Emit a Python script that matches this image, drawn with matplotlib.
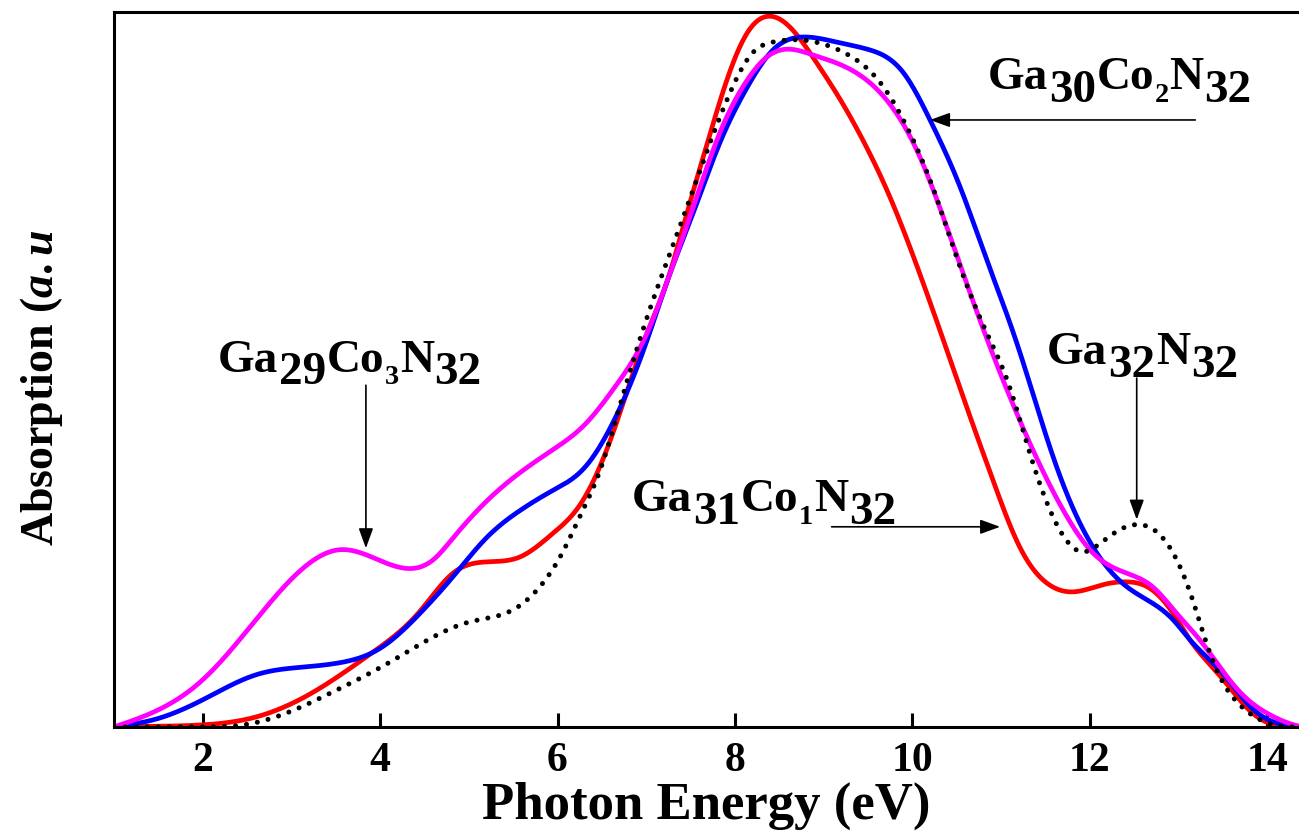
import numpy as np
import matplotlib
matplotlib.use('Agg')
import matplotlib.pyplot as plt

plt.rcParams['font.family'] = ['Liberation Serif', 'DejaVu Serif']
plt.rcParams['font.weight'] = 'bold'
plt.rcParams['mathtext.fontset'] = 'custom'
plt.rcParams['mathtext.rm'] = 'Liberation Serif:bold'
plt.rcParams['mathtext.bf'] = 'Liberation Serif:bold'
plt.rcParams['mathtext.it'] = 'Liberation Serif:italic:bold'

# values (photon energy in eV, absorption in a.u.)
red_x = [1.0, 1.5, 2.0, 2.6, 3.15, 3.9, 4.45, 4.82, 5.21, 5.58, 5.95, 6.25, 6.63,
         7.01, 7.23, 7.46, 7.69, 7.91, 8.14, 8.37, 8.65, 8.9, 9.2, 9.5, 9.71,
         10.09, 10.39, 10.68, 10.91, 11.21, 11.52, 11.81, 12.15, 12.42, 12.65,
         12.94, 13.13, 13.48, 13.83, 14.08, 14.43, 14.6]
red_y = [0, 0.001, 0.003, 0.014, 0.042, 0.103, 0.162, 0.215, 0.231, 0.238, 0.271,
         0.31, 0.413, 0.551, 0.621, 0.719, 0.817, 0.905, 0.971, 0.994, 0.975,
         0.933, 0.875, 0.807, 0.752, 0.632, 0.527, 0.424, 0.345, 0.252, 0.201,
         0.189, 0.199, 0.203, 0.196, 0.159, 0.122, 0.070, 0.020, 0.003, 0, 0]

blue_x = [1.0, 1.5, 2.0, 2.6, 3.15, 3.55, 4.0, 4.45, 4.82, 5.21, 5.58, 5.95, 6.3,
          6.63, 7.01, 7.23, 7.53, 7.83, 8.14, 8.43, 8.81, 9.18, 9.52, 9.9, 10.2,
          10.54, 10.84, 11.14, 11.3, 11.59, 11.89, 12.12, 12.42, 12.71, 12.94,
          13.13, 13.5, 13.85, 14.1, 14.43, 14.6]
blue_y = [0, 0.012, 0.038, 0.073, 0.084, 0.090, 0.110, 0.159, 0.210, 0.266, 0.303,
          0.331, 0.362, 0.427, 0.541, 0.621, 0.719, 0.817, 0.895, 0.947, 0.965,
          0.957, 0.947, 0.915, 0.849, 0.755, 0.653, 0.551, 0.490, 0.377, 0.285,
          0.236, 0.196, 0.173, 0.150, 0.122, 0.075, 0.024, 0.006, 0, 0]

mag_x = [1.0, 1.5, 2.0, 2.6, 3.15, 3.55, 3.9, 4.28, 4.6, 4.82, 5.21, 5.58, 5.95,
         6.3, 6.65, 7.01, 7.23, 7.53, 7.83, 8.14, 8.36, 8.59, 8.88, 9.25, 9.71,
         10.05, 10.39, 10.68, 11.03, 11.38, 11.74, 12.04, 12.42, 12.71, 12.98,
         13.24, 13.67, 14.08, 14.43, 14.6]
mag_y = [0, 0.024, 0.066, 0.150, 0.224, 0.248, 0.238, 0.222, 0.234, 0.264, 0.317,
         0.356, 0.388, 0.422, 0.476, 0.551, 0.621, 0.727, 0.831, 0.905, 0.937,
         0.948, 0.940, 0.923, 0.877, 0.807, 0.699, 0.597, 0.483, 0.382, 0.295,
         0.243, 0.215, 0.196, 0.159, 0.122, 0.052, 0.014, 0, 0]

dot_x = [1.0, 2.0, 2.4, 2.72, 3.45, 4.1, 4.6, 5.01, 5.5, 5.8, 6.03, 6.27, 6.48,
         6.7, 7.01, 7.35, 7.69, 7.91, 8.2, 8.43, 8.73, 9.25, 9.64, 9.94, 10.23,
         10.54, 10.84, 11.07, 11.36, 11.66, 11.92, 12.12, 12.34, 12.57, 12.79,
         12.98, 13.16, 13.28, 13.45, 13.7, 14.0, 14.43, 14.6]
dot_y = [0, 0, 0.002, 0.010, 0.048, 0.090, 0.126, 0.147, 0.164, 0.196, 0.238,
         0.299, 0.359, 0.448, 0.573, 0.69, 0.807, 0.877, 0.943, 0.958, 0.961,
         0.942, 0.901, 0.839, 0.755, 0.643, 0.551, 0.485, 0.369, 0.276, 0.245,
         0.257, 0.276, 0.283, 0.269, 0.234, 0.178, 0.131, 0.075, 0.030, 0.006,
         0, 0]

x_ticks = [2, 4, 6, 8, 10, 12, 14]

# formula labels: (piece, kind) with kind 'n' normal, 'b' big subscript, 's' small subscript
labels = [
    ([('Ga', 'n'), ('30', 'b'), ('Co', 'n'), ('2', 's'), ('N', 'n'), ('32', 'b')], (10.85, 0.892)),
    ([('Ga', 'n'), ('29', 'b'), ('Co', 'n'), ('3', 's'), ('N', 'n'), ('32', 'b')], (2.17, 0.497)),
    ([('Ga', 'n'), ('32', 'b'), ('N', 'n'), ('32', 'b')], (11.52, 0.508)),
    ([('Ga', 'n'), ('31', 'b'), ('Co', 'n'), ('1', 's'), ('N', 'n'), ('32', 'b')], (6.84, 0.302)),
]


def smooth(x, y, n=900):
    # natural cubic spline through the read-off points
    x = np.asarray(x, float)
    y = np.asarray(y, float)
    h = np.diff(x)
    m = len(x)
    A = np.zeros((m, m))
    b = np.zeros(m)
    A[0, 0] = A[-1, -1] = 1
    for i in range(1, m - 1):
        A[i, i - 1] = h[i - 1]
        A[i, i] = 2 * (h[i - 1] + h[i])
        A[i, i + 1] = h[i]
        b[i] = 6 * ((y[i + 1] - y[i]) / h[i] - (y[i] - y[i - 1]) / h[i - 1])
    M = np.linalg.solve(A, b)
    xx = np.linspace(x[0], x[-1], n)
    k = np.clip(np.searchsorted(x, xx) - 1, 0, m - 2)
    hk = h[k]
    a = x[k + 1] - xx
    c = xx - x[k]
    yy = (M[k] * a ** 3 + M[k + 1] * c ** 3) / (6 * hk) \
        + (y[k] / hk - M[k] * hk / 6) * a + (y[k + 1] / hk - M[k + 1] * hk / 6) * c
    return xx, np.clip(yy, 0, None)


def formula(ax, pieces, xy, size):
    # chain text pieces so the subscripts keep nearly full size like the original
    drop = {'n': 0.0, 'b': 0.27 * size, 's': 0.27 * size}
    scale = {'n': 1.0, 'b': 1.0, 's': 0.6}
    prev = None
    prev_bottom = 0.0
    for txt, kind in pieces:
        fs = size * scale[kind]
        bottom = -drop[kind] - 0.22 * fs
        if prev is None:
            t = ax.text(xy[0], xy[1], txt, fontsize=fs, fontweight='bold',
                        ha='left', va='baseline')
        else:
            t = ax.annotate(txt, xy=(1, 0), xycoords=prev,
                            xytext=(0.5, bottom - prev_bottom),
                            textcoords='offset points', fontsize=fs,
                            fontweight='bold', ha='left', va='bottom')
        prev = t
        prev_bottom = bottom


fig = plt.figure(figsize=(12.99, 8.34), dpi=100)
ax = fig.add_axes([114 / 1299, 1 - 727 / 834, 13.6 * 88.7 / 1299, 715 / 834])

ax.plot(*smooth(red_x, red_y), color='#ff0000', lw=3.4)
ax.plot(*smooth(blue_x, blue_y), color='#0000ff', lw=3.4)
ax.plot(*smooth(mag_x, mag_y), color='#ff00ff', lw=3.4)
ax.plot(*smooth(dot_x, dot_y), color='black', lw=3.6,
        linestyle=(0, (0.01, 2.2)), dash_capstyle='round')

ax.set_xlim(1, 14.6)
ax.set_ylim(0, 1)
ax.set_xticks(x_ticks)
ax.set_yticks([])
ax.tick_params(axis='x', direction='in', length=10, width=2.2, labelsize=30, pad=11)
for lbl in ax.get_xticklabels():
    lbl.set_fontweight('bold')
for s in ['left', 'bottom', 'top']:
    ax.spines[s].set_linewidth(2.2)
ax.spines['right'].set_visible(False)

arrow = dict(arrowstyle='-|>,head_length=0.55,head_width=0.2', color='black',
             lw=1.2, mutation_scale=22, shrinkA=0, shrinkB=0)
ax.annotate('', xy=(10.20, 0.849), xytext=(13.19, 0.849), arrowprops=arrow)
ax.annotate('', xy=(3.84, 0.250), xytext=(3.84, 0.478), arrowprops=arrow)
ax.annotate('', xy=(12.53, 0.290), xytext=(12.53, 0.488), arrowprops=arrow)
ax.annotate('', xy=(10.99, 0.280), xytext=(9.09, 0.280), arrowprops=arrow)

for pieces, xy in labels:
    formula(ax, pieces, xy, 34)

fig.text(706 / 1299, 1 - 819 / 834, 'Photon Energy (eV)', fontsize=38,
         fontweight='bold', ha='center', va='baseline')
fig.text(42 / 1299, 1 - 388 / 834, r'Absorption ($\mathit{a.u}$', fontsize=33,
         fontweight='bold', rotation=90, ha='center', va='center')

fig.savefig('out.png', dpi=100)
